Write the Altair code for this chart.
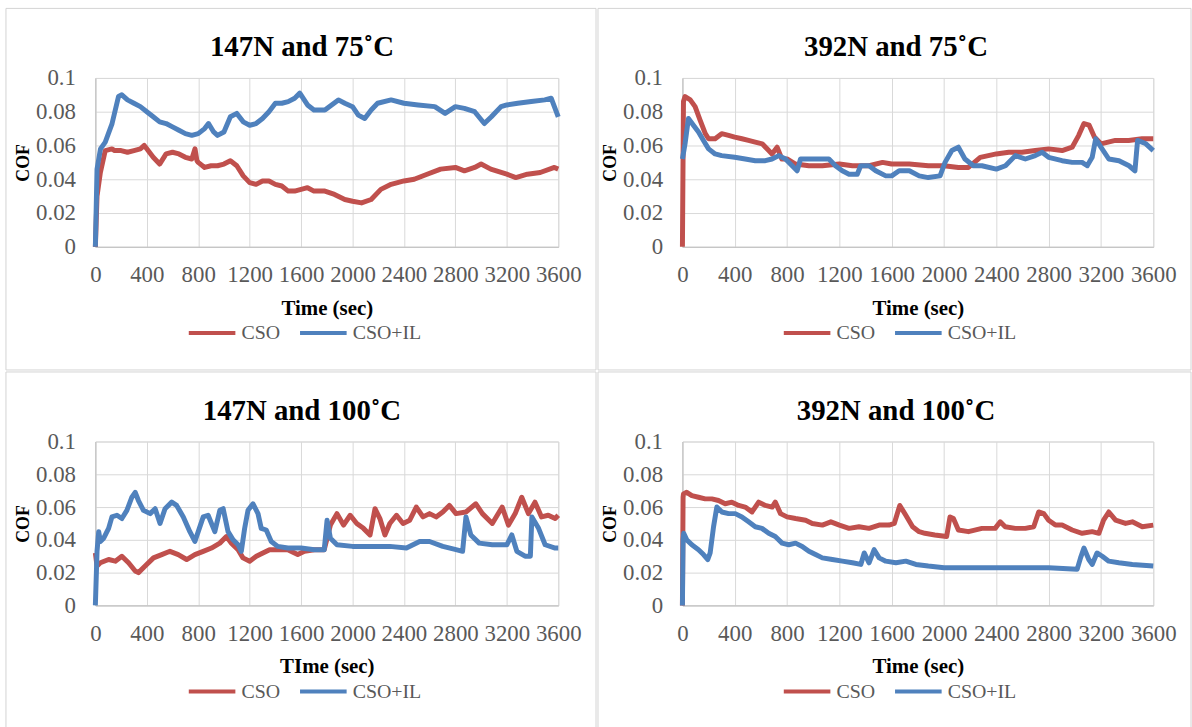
import altair as alt
import pandas as pd

RED = "#C0504D"
BLUE = "#4F81BD"
FONT = "Liberation Serif"

# ---------------- Panel 1: 147N and 75 C ----------------
P1_CSO_T = [0, 13, 39, 77, 129, 150, 200, 250, 300, 350, 380, 400, 450, 500, 550, 600, 650, 700, 750, 775, 790, 800,
            850, 900, 950, 1000, 1050, 1100, 1150, 1200, 1250, 1300, 1350, 1400, 1450, 1500, 1550, 1600, 1650, 1700,
            1785, 1860, 1940, 2000, 2070, 2145, 2220, 2300, 2400, 2480, 2580, 2685, 2800, 2870, 2950, 3000, 3075,
            3200, 3270, 3360, 3460, 3570, 3600]
P1_CSO_V = [0, 0.030, 0.044, 0.057, 0.058, 0.057, 0.057, 0.056, 0.057, 0.058, 0.060, 0.058, 0.053, 0.049, 0.055, 0.056,
            0.055, 0.053, 0.052, 0.058, 0.051, 0.050, 0.047, 0.048, 0.048, 0.049, 0.051, 0.048, 0.042, 0.038, 0.037,
            0.039, 0.039, 0.037, 0.036, 0.033, 0.033, 0.034, 0.035, 0.033, 0.033, 0.031, 0.028, 0.027, 0.026, 0.028,
            0.034, 0.037, 0.039, 0.040, 0.043, 0.046, 0.047, 0.045, 0.047, 0.049, 0.046, 0.043, 0.041, 0.043, 0.044,
            0.047, 0.046]
P1_IL_T = [0, 13, 40, 77, 130, 180, 206, 250, 300, 350, 400, 450, 500, 550, 600, 650, 700, 750, 800, 850, 880, 920,
           950, 1000, 1050, 1100, 1150, 1200, 1250, 1300, 1350, 1400, 1450, 1500, 1550, 1590, 1650, 1700, 1785, 1890,
           1940, 2000, 2045, 2095, 2145, 2195, 2300, 2400, 2510, 2640, 2720, 2800, 2870, 2950, 3025, 3080, 3155, 3200,
           3285, 3390, 3495, 3545, 3570, 3600]
P1_IL_V = [0, 0.046, 0.058, 0.062, 0.073, 0.089, 0.090, 0.087, 0.085, 0.083, 0.080, 0.077, 0.074, 0.073, 0.071, 0.069,
           0.067, 0.066, 0.067, 0.070, 0.073, 0.068, 0.066, 0.068, 0.077, 0.079, 0.074, 0.072, 0.073, 0.076, 0.080,
           0.085, 0.085, 0.086, 0.088, 0.091, 0.084, 0.081, 0.081, 0.087, 0.085, 0.083, 0.078, 0.076, 0.081, 0.085,
           0.087, 0.085, 0.084, 0.083, 0.079, 0.083, 0.082, 0.080, 0.073, 0.077, 0.083, 0.084, 0.085, 0.086, 0.087,
           0.088, 0.083, 0.077]

# ---------------- Panel 2: 392N and 75 C ----------------
P2_CSO_T = [0, 8, 20, 60, 97, 135, 175, 200, 250, 300, 353, 400, 455, 505, 557, 610, 660, 685, 724, 760, 800, 865,
            967, 1070, 1200, 1300, 1427, 1530, 1600, 1735, 1880, 2000, 2110, 2187, 2277, 2400, 2495, 2596, 2698,
            2800, 2903, 2980, 3030, 3070, 3110, 3150, 3200, 3310, 3412, 3514, 3600]
P2_CSO_V = [0, 0.086, 0.089, 0.087, 0.083, 0.075, 0.067, 0.064, 0.064, 0.067, 0.066, 0.065, 0.064, 0.063, 0.062,
            0.061, 0.057, 0.055, 0.059, 0.052, 0.052, 0.049, 0.048, 0.048, 0.049, 0.048, 0.048, 0.050, 0.049, 0.049,
            0.048, 0.048, 0.047, 0.047, 0.053, 0.055, 0.056, 0.056, 0.057, 0.058, 0.057, 0.059, 0.066, 0.073, 0.072,
            0.065, 0.061, 0.063, 0.063, 0.064, 0.064]
P2_IL_T = [0, 20, 46, 84, 123, 161, 200, 250, 300, 400, 480, 557, 634, 685, 737, 788, 839, 877, 903, 967, 1070, 1120,
           1170, 1222, 1274, 1337, 1363, 1427, 1478, 1555, 1600, 1657, 1735, 1810, 1880, 1970, 2008, 2060, 2110,
           2160, 2225, 2290, 2400, 2470, 2546, 2622, 2698, 2750, 2800, 2903, 2980, 3056, 3095, 3133, 3160, 3200,
           3260, 3338, 3415, 3460, 3480, 3544, 3600]
P2_IL_V = [0.052, 0.061, 0.076, 0.072, 0.068, 0.063, 0.058, 0.055, 0.054, 0.053, 0.052, 0.051, 0.051, 0.052, 0.054,
           0.052, 0.048, 0.045, 0.052, 0.052, 0.052, 0.052, 0.048, 0.045, 0.043, 0.043, 0.048, 0.048, 0.045, 0.042,
           0.042, 0.045, 0.045, 0.042, 0.041, 0.042, 0.050, 0.057, 0.059, 0.052, 0.048, 0.048, 0.046, 0.048, 0.054,
           0.052, 0.054, 0.056, 0.053, 0.051, 0.050, 0.050, 0.048, 0.053, 0.064, 0.059, 0.052, 0.051, 0.048, 0.045,
           0.063, 0.061, 0.057]

# ---------------- Panel 3: 147N and 100 C ----------------
P3_CSO_T = [0, 13, 39, 103, 155, 206, 258, 310, 335, 387, 452, 516, 580, 645, 710, 774, 839, 903, 968, 1019, 1058,
            1110, 1148, 1200, 1252, 1303, 1355, 1419, 1497, 1574, 1626, 1703, 1780, 1828, 1879, 1930, 1982, 2033,
            2085, 2136, 2175, 2213, 2252, 2290, 2342, 2393, 2445, 2496, 2548, 2599, 2650, 2702, 2753, 2805, 2882,
            2959, 3010, 3087, 3164, 3213, 3265, 3316, 3368, 3419, 3470, 3522, 3576, 3600]
P3_CSO_V = [0.032, 0.024, 0.026, 0.028, 0.027, 0.030, 0.026, 0.021, 0.020, 0.024, 0.029, 0.031, 0.033, 0.031, 0.028,
            0.031, 0.033, 0.035, 0.038, 0.042, 0.038, 0.034, 0.029, 0.027, 0.030, 0.032, 0.034, 0.034, 0.034, 0.031,
            0.033, 0.034, 0.034, 0.049, 0.056, 0.049, 0.055, 0.050, 0.047, 0.043, 0.059, 0.053, 0.043, 0.050, 0.055,
            0.050, 0.052, 0.060, 0.054, 0.056, 0.054, 0.057, 0.061, 0.056, 0.057, 0.062, 0.056, 0.050, 0.060, 0.049,
            0.056, 0.066, 0.056, 0.063, 0.054, 0.055, 0.053, 0.055]
P3_IL_T = [0, 13, 26, 39, 65, 103, 129, 168, 206, 245, 284, 310, 335, 374, 426, 465, 503, 542, 594, 632, 684, 735,
           774, 800, 839, 877, 929, 968, 994, 1032, 1071, 1110, 1135, 1161, 1187, 1226, 1265, 1290, 1329, 1368, 1419,
           1497, 1600, 1703, 1780, 1802, 1828, 1879, 2000, 2162, 2290, 2419, 2522, 2599, 2702, 2805, 2856, 2882,
           2920, 2985, 3087, 3200, 3239, 3278, 3342, 3383, 3395, 3447, 3498, 3576, 3600]
P3_IL_V = [0, 0.033, 0.045, 0.039, 0.041, 0.047, 0.054, 0.055, 0.053, 0.058, 0.066, 0.069, 0.064, 0.058, 0.056, 0.059,
           0.050, 0.059, 0.063, 0.061, 0.054, 0.045, 0.039, 0.045, 0.054, 0.055, 0.045, 0.058, 0.059, 0.045, 0.040,
           0.037, 0.033, 0.047, 0.058, 0.062, 0.056, 0.047, 0.046, 0.039, 0.036, 0.035, 0.035, 0.034, 0.034, 0.052,
           0.041, 0.037, 0.036, 0.036, 0.036, 0.035, 0.039, 0.039, 0.036, 0.034, 0.033, 0.054, 0.043, 0.038, 0.037,
           0.037, 0.043, 0.033, 0.030, 0.030, 0.054, 0.047, 0.037, 0.035, 0.035]

# ---------------- Panel 4: 392N and 100 C ----------------
P4_CSO_T = [0, 5, 8, 33, 72, 123, 174, 225, 276, 327, 378, 430, 480, 532, 583, 634, 686, 710, 750, 800, 865, 942, 993,
            1070, 1135, 1200, 1274, 1350, 1427, 1504, 1580, 1620, 1662, 1708, 1760, 1810, 1854, 1930, 2020, 2046,
            2072, 2110, 2187, 2290, 2391, 2430, 2468, 2545, 2622, 2686, 2724, 2763, 2800, 2852, 2903, 2980, 3056,
            3133, 3184, 3220, 3260, 3312, 3388, 3440, 3516, 3600]
P4_CSO_V = [0, 0.066, 0.068, 0.069, 0.067, 0.066, 0.065, 0.065, 0.064, 0.062, 0.063, 0.061, 0.060, 0.057, 0.063,
            0.061, 0.060, 0.063, 0.056, 0.054, 0.053, 0.052, 0.050, 0.049, 0.051, 0.049, 0.047, 0.048, 0.047, 0.049,
            0.049, 0.050, 0.061, 0.055, 0.048, 0.045, 0.044, 0.043, 0.042, 0.054, 0.053, 0.046, 0.045, 0.047, 0.047,
            0.051, 0.048, 0.047, 0.047, 0.048, 0.057, 0.056, 0.052, 0.049, 0.049, 0.046, 0.044, 0.045, 0.044, 0.052,
            0.057, 0.052, 0.050, 0.051, 0.048, 0.049]
P4_IL_T = [0, 5, 10, 33, 72, 123, 161, 194, 212, 238, 263, 302, 353, 404, 455, 506, 557, 608, 660, 710, 762, 813, 865,
           916, 967, 1018, 1070, 1146, 1223, 1300, 1364, 1390, 1427, 1466, 1504, 1555, 1632, 1708, 1785, 1880, 2000,
           2290, 2545, 2800, 3018, 3044, 3070, 3107, 3133, 3170, 3210, 3260, 3337, 3440, 3600]
P4_IL_V = [0, 0.040, 0.044, 0.040, 0.037, 0.034, 0.031, 0.028, 0.032, 0.048, 0.060, 0.057, 0.056, 0.056, 0.054, 0.051,
           0.048, 0.047, 0.044, 0.042, 0.038, 0.037, 0.038, 0.036, 0.033, 0.031, 0.029, 0.028, 0.027, 0.026, 0.025,
           0.032, 0.026, 0.034, 0.029, 0.027, 0.026, 0.027, 0.025, 0.024, 0.023, 0.023, 0.023, 0.023, 0.022, 0.029,
           0.035, 0.028, 0.025, 0.032, 0.030, 0.027, 0.026, 0.025, 0.024]

X_TICKS = [0, 400, 800, 1200, 1600, 2000, 2400, 2800, 3200, 3600]
Y_TICKS = [0, 0.02, 0.04, 0.06, 0.08, 0.1]
SERIES = ["CSO", "CSO+IL"]

ONE = pd.DataFrame({"k": [0]})


def panel(title, xtitle, cso_t, cso_v, il_t, il_v, w, h, rect, title_x, legend_x):
    df = pd.DataFrame({
        "t": cso_t + il_t,
        "cof": cso_v + il_v,
        "series": ["CSO"] * len(cso_t) + ["CSO+IL"] * len(il_t),
    })
    x0, x1, y0, y1 = rect
    border = alt.Chart(ONE).mark_rect(fill="white", fillOpacity=0, stroke="#d4d4d4", strokeWidth=1).encode(
        x=alt.value(x0), x2=alt.value(x1), y=alt.value(y0), y2=alt.value(y1)
    )
    lines = alt.Chart(df).mark_line(strokeWidth=5, strokeJoin="round").encode(
        x=alt.X("t:Q", scale=alt.Scale(domain=[0, 3600], nice=False, zero=False),
                axis=alt.Axis(values=X_TICKS, format="d", title=xtitle, labelPadding=17, titlePadding=11,
                              titleFontSize=21, labelOverlap=False, labelFlush=False)),
        y=alt.Y("cof:Q", scale=alt.Scale(domain=[0, 0.1], nice=False),
                axis=alt.Axis(values=Y_TICKS, format="~g", title="COF", labelPadding=20, titlePadding=3,
                              titleFontSize=18, labelOverlap=False, labelFlush=False)),
        color=alt.Color("series:N", scale=alt.Scale(domain=SERIES, range=[RED, BLUE]),
                        legend=alt.Legend(title=None, orient="none", legendX=legend_x, legendY=h + 61,
                                          direction="horizontal", symbolType="stroke", symbolSize=2200,
                                          symbolStrokeWidth=4, labelFontSize=20, labelFont=FONT,
                                          labelColor="#595959", labelOffset=4, columnPadding=12, padding=0)),
        order=alt.Order("t:Q"),
    )
    ttl = alt.Chart(ONE).mark_text(text=title, font=FONT, fontSize=29, fontWeight="bold", color="black",
                                   align="center", baseline="middle").encode(
        x=alt.value(title_x), y=alt.value(-31)
    )
    return alt.layer(border, lines, ttl).properties(width=w, height=h)


p1 = panel("147N and 75˚C", "Time (sec)", P1_CSO_T, P1_CSO_V, P1_IL_T, P1_IL_V, 466, 170,
           (-90, 504, -70, 294), 208, 92)
p2 = panel("392N and 75˚C", "Time (sec)", P2_CSO_T, P2_CSO_V, P2_IL_T, P2_IL_V, 474, 170,
           (-85, 512, -70, 294), 215, 100)
p3 = panel("147N and 100˚C", "TIme (sec)", P3_CSO_T, P3_CSO_V, P3_IL_T, P3_IL_V, 466, 165,
           (-90, 504, -70, 292), 208, 92)
p4 = panel("392N and 100˚C", "Time (sec)", P4_CSO_T, P4_CSO_V, P4_IL_T, P4_IL_V, 474, 165,
           (-85, 512, -70, 292), 215, 100)

row1 = alt.hconcat(p1, p2, spacing=0).resolve_scale(color="independent").resolve_legend(color="independent")
row2 = alt.hconcat(p3, p4, spacing=0).resolve_scale(color="independent").resolve_legend(color="independent")

chart = alt.vconcat(row1, row2, spacing=0).resolve_scale(
    color="independent"
).resolve_legend(
    color="independent"
).properties(
    padding={"left": 5, "top": 5, "right": 0, "bottom": 0},
    background="white",
).configure_axis(
    gridColor="#d9d9d9",
    gridWidth=1,
    domainColor="#bfbfbf",
    ticks=False,
    labelFont=FONT,
    labelFontSize=23,
    labelColor="#595959",
    titleFont=FONT,
    titleFontWeight="bold",
    titleColor="black",
).configure_view(
    stroke="#d9d9d9",
).configure_concat(spacing=0)

chart.save("out.html", embed_options={"renderer": "svg", "actions": False})
